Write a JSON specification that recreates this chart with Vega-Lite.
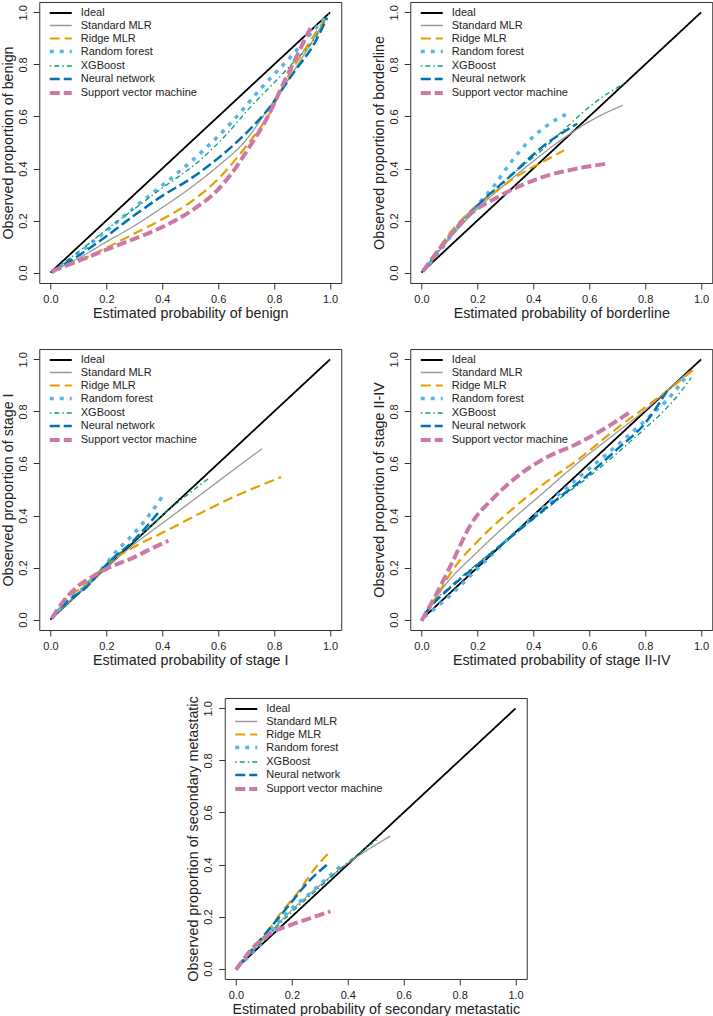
{
"$schema": "https://vega.github.io/schema/vega-lite/v6.json",
"padding": {"left": 0, "top": 1, "right": 0, "bottom": 0},
"config": {
  "font": "Liberation Sans",
  "view": {"stroke": "#333333", "strokeWidth": 1},
  "axis": {"grid": false, "domain": false, "tickColor": "#333333", "tickSize": 6, "labelFontSize": 11, "labelColor": "#222222", "titleFontSize": 14.3, "titleFontWeight": "normal", "titleColor": "#222222"},
  "axisY": {"labelAngle": -90, "labelAlign": "center", "labelBaseline": "bottom", "labelPadding": 5, "titlePadding": 2},
  "axisX": {"labelPadding": 4, "titlePadding": 2},
  "legend": {"orient": "none", "legendX": 14, "legendY": 4.5, "padding": 0, "labelFontSize": 11, "labelColor": "#222222", "labelOffset": 12.5, "symbolType": "M-2,0L2,0", "symbolSize": 121, "rowPadding": 0.5},
  "line": {"interpolate": "monotone"}
},
"datasets": {
"d": [
{"p":"b","m":"Ideal","x":0,"y":0},{"p":"b","m":"Ideal","x":1,"y":1},
{"p":"b","m":"Standard MLR","x":0.005,"y":0.005},{"p":"b","m":"Standard MLR","x":0.1,"y":0.055},{"p":"b","m":"Standard MLR","x":0.2,"y":0.118},{"p":"b","m":"Standard MLR","x":0.3,"y":0.18},{"p":"b","m":"Standard MLR","x":0.4,"y":0.25},{"p":"b","m":"Standard MLR","x":0.5,"y":0.325},{"p":"b","m":"Standard MLR","x":0.6,"y":0.41},{"p":"b","m":"Standard MLR","x":0.7,"y":0.51},{"p":"b","m":"Standard MLR","x":0.77,"y":0.615},{"p":"b","m":"Standard MLR","x":0.85,"y":0.74},{"p":"b","m":"Standard MLR","x":0.92,"y":0.86},{"p":"b","m":"Standard MLR","x":0.985,"y":0.975},
{"p":"b","m":"Ridge MLR","x":0.005,"y":0.005},{"p":"b","m":"Ridge MLR","x":0.1,"y":0.045},{"p":"b","m":"Ridge MLR","x":0.2,"y":0.095},{"p":"b","m":"Ridge MLR","x":0.3,"y":0.15},{"p":"b","m":"Ridge MLR","x":0.4,"y":0.205},{"p":"b","m":"Ridge MLR","x":0.5,"y":0.27},{"p":"b","m":"Ridge MLR","x":0.6,"y":0.36},{"p":"b","m":"Ridge MLR","x":0.71,"y":0.5},{"p":"b","m":"Ridge MLR","x":0.78,"y":0.605},{"p":"b","m":"Ridge MLR","x":0.853,"y":0.76},{"p":"b","m":"Ridge MLR","x":0.912,"y":0.861},{"p":"b","m":"Ridge MLR","x":0.995,"y":0.995},
{"p":"b","m":"Random forest","x":0.005,"y":0.0},{"p":"b","m":"Random forest","x":0.1,"y":0.075},{"p":"b","m":"Random forest","x":0.2,"y":0.16},{"p":"b","m":"Random forest","x":0.3,"y":0.25},{"p":"b","m":"Random forest","x":0.4,"y":0.335},{"p":"b","m":"Random forest","x":0.533,"y":0.456},{"p":"b","m":"Random forest","x":0.65,"y":0.58},{"p":"b","m":"Random forest","x":0.746,"y":0.7},{"p":"b","m":"Random forest","x":0.864,"y":0.835},{"p":"b","m":"Random forest","x":0.947,"y":0.938},{"p":"b","m":"Random forest","x":0.99,"y":0.99},
{"p":"b","m":"XGBoost","x":0.005,"y":0.005},{"p":"b","m":"XGBoost","x":0.1,"y":0.08},{"p":"b","m":"XGBoost","x":0.2,"y":0.165},{"p":"b","m":"XGBoost","x":0.3,"y":0.245},{"p":"b","m":"XGBoost","x":0.4,"y":0.325},{"p":"b","m":"XGBoost","x":0.533,"y":0.43},{"p":"b","m":"XGBoost","x":0.62,"y":0.52},{"p":"b","m":"XGBoost","x":0.71,"y":0.63},{"p":"b","m":"XGBoost","x":0.853,"y":0.79},{"p":"b","m":"XGBoost","x":0.96,"y":0.925},{"p":"b","m":"XGBoost","x":0.99,"y":0.985},
{"p":"b","m":"Neural network","x":0.005,"y":0.005},{"p":"b","m":"Neural network","x":0.1,"y":0.065},{"p":"b","m":"Neural network","x":0.2,"y":0.14},{"p":"b","m":"Neural network","x":0.3,"y":0.22},{"p":"b","m":"Neural network","x":0.4,"y":0.295},{"p":"b","m":"Neural network","x":0.5,"y":0.36},{"p":"b","m":"Neural network","x":0.6,"y":0.44},{"p":"b","m":"Neural network","x":0.71,"y":0.547},{"p":"b","m":"Neural network","x":0.78,"y":0.63},{"p":"b","m":"Neural network","x":0.864,"y":0.76},{"p":"b","m":"Neural network","x":0.947,"y":0.887},{"p":"b","m":"Neural network","x":0.99,"y":0.98},
{"p":"b","m":"Support vector machine","x":0.005,"y":0.005},{"p":"b","m":"Support vector machine","x":0.1,"y":0.045},{"p":"b","m":"Support vector machine","x":0.2,"y":0.088},{"p":"b","m":"Support vector machine","x":0.3,"y":0.13},{"p":"b","m":"Support vector machine","x":0.4,"y":0.175},{"p":"b","m":"Support vector machine","x":0.5,"y":0.235},{"p":"b","m":"Support vector machine","x":0.6,"y":0.32},{"p":"b","m":"Support vector machine","x":0.64,"y":0.37},{"p":"b","m":"Support vector machine","x":0.71,"y":0.48},{"p":"b","m":"Support vector machine","x":0.78,"y":0.605},{"p":"b","m":"Support vector machine","x":0.83,"y":0.72},{"p":"b","m":"Support vector machine","x":0.888,"y":0.848},{"p":"b","m":"Support vector machine","x":0.93,"y":0.94},

{"p":"bl","m":"Ideal","x":0,"y":0},{"p":"bl","m":"Ideal","x":1,"y":1},
{"p":"bl","m":"Standard MLR","x":0.005,"y":0.005},{"p":"bl","m":"Standard MLR","x":0.05,"y":0.065},{"p":"bl","m":"Standard MLR","x":0.1,"y":0.13},{"p":"bl","m":"Standard MLR","x":0.2,"y":0.245},{"p":"bl","m":"Standard MLR","x":0.3,"y":0.34},{"p":"bl","m":"Standard MLR","x":0.379,"y":0.41},{"p":"bl","m":"Standard MLR","x":0.5,"y":0.51},{"p":"bl","m":"Standard MLR","x":0.616,"y":0.59},{"p":"bl","m":"Standard MLR","x":0.72,"y":0.643},
{"p":"bl","m":"Ridge MLR","x":0.005,"y":0.005},{"p":"bl","m":"Ridge MLR","x":0.05,"y":0.075},{"p":"bl","m":"Ridge MLR","x":0.1,"y":0.15},{"p":"bl","m":"Ridge MLR","x":0.15,"y":0.21},{"p":"bl","m":"Ridge MLR","x":0.2,"y":0.26},{"p":"bl","m":"Ridge MLR","x":0.25,"y":0.3},{"p":"bl","m":"Ridge MLR","x":0.3,"y":0.34},{"p":"bl","m":"Ridge MLR","x":0.38,"y":0.395},{"p":"bl","m":"Ridge MLR","x":0.45,"y":0.435},{"p":"bl","m":"Ridge MLR","x":0.51,"y":0.47},
{"p":"bl","m":"Random forest","x":0.005,"y":0.005},{"p":"bl","m":"Random forest","x":0.071,"y":0.09},{"p":"bl","m":"Random forest","x":0.142,"y":0.193},{"p":"bl","m":"Random forest","x":0.2,"y":0.26},{"p":"bl","m":"Random forest","x":0.26,"y":0.334},{"p":"bl","m":"Random forest","x":0.32,"y":0.424},{"p":"bl","m":"Random forest","x":0.379,"y":0.5},{"p":"bl","m":"Random forest","x":0.45,"y":0.566},{"p":"bl","m":"Random forest","x":0.533,"y":0.617},
{"p":"bl","m":"XGBoost","x":0.005,"y":0.005},{"p":"bl","m":"XGBoost","x":0.083,"y":0.116},{"p":"bl","m":"XGBoost","x":0.2,"y":0.257},{"p":"bl","m":"XGBoost","x":0.32,"y":0.373},{"p":"bl","m":"XGBoost","x":0.43,"y":0.47},{"p":"bl","m":"XGBoost","x":0.52,"y":0.56},{"p":"bl","m":"XGBoost","x":0.616,"y":0.65},{"p":"bl","m":"XGBoost","x":0.735,"y":0.733},
{"p":"bl","m":"Neural network","x":0.005,"y":0.005},{"p":"bl","m":"Neural network","x":0.083,"y":0.116},{"p":"bl","m":"Neural network","x":0.2,"y":0.257},{"p":"bl","m":"Neural network","x":0.32,"y":0.373},{"p":"bl","m":"Neural network","x":0.438,"y":0.488},{"p":"bl","m":"Neural network","x":0.557,"y":0.572},
{"p":"bl","m":"Support vector machine","x":0.005,"y":0.005},{"p":"bl","m":"Support vector machine","x":0.083,"y":0.116},{"p":"bl","m":"Support vector machine","x":0.166,"y":0.218},{"p":"bl","m":"Support vector machine","x":0.26,"y":0.283},{"p":"bl","m":"Support vector machine","x":0.355,"y":0.334},{"p":"bl","m":"Support vector machine","x":0.45,"y":0.373},{"p":"bl","m":"Support vector machine","x":0.557,"y":0.4},{"p":"bl","m":"Support vector machine","x":0.658,"y":0.418},

{"p":"s1","m":"Ideal","x":0,"y":0},{"p":"s1","m":"Ideal","x":1,"y":1},
{"p":"s1","m":"Standard MLR","x":0.005,"y":0.005},{"p":"s1","m":"Standard MLR","x":0.1,"y":0.1},{"p":"s1","m":"Standard MLR","x":0.2,"y":0.2},{"p":"s1","m":"Standard MLR","x":0.3,"y":0.29},{"p":"s1","m":"Standard MLR","x":0.416,"y":0.383},{"p":"s1","m":"Standard MLR","x":0.534,"y":0.478},{"p":"s1","m":"Standard MLR","x":0.653,"y":0.574},{"p":"s1","m":"Standard MLR","x":0.757,"y":0.657},
{"p":"s1","m":"Ridge MLR","x":0.005,"y":0.005},{"p":"s1","m":"Ridge MLR","x":0.06,"y":0.085},{"p":"s1","m":"Ridge MLR","x":0.095,"y":0.11},{"p":"s1","m":"Ridge MLR","x":0.15,"y":0.16},{"p":"s1","m":"Ridge MLR","x":0.214,"y":0.222},{"p":"s1","m":"Ridge MLR","x":0.297,"y":0.278},{"p":"s1","m":"Ridge MLR","x":0.416,"y":0.342},{"p":"s1","m":"Ridge MLR","x":0.534,"y":0.408},{"p":"s1","m":"Ridge MLR","x":0.653,"y":0.47},{"p":"s1","m":"Ridge MLR","x":0.825,"y":0.548},
{"p":"s1","m":"Random forest","x":0.005,"y":0.005},{"p":"s1","m":"Random forest","x":0.06,"y":0.072},{"p":"s1","m":"Random forest","x":0.119,"y":0.123},{"p":"s1","m":"Random forest","x":0.178,"y":0.188},{"p":"s1","m":"Random forest","x":0.238,"y":0.265},{"p":"s1","m":"Random forest","x":0.297,"y":0.329},{"p":"s1","m":"Random forest","x":0.356,"y":0.406},{"p":"s1","m":"Random forest","x":0.398,"y":0.47},
{"p":"s1","m":"XGBoost","x":0.005,"y":0.005},{"p":"s1","m":"XGBoost","x":0.1,"y":0.1},{"p":"s1","m":"XGBoost","x":0.178,"y":0.19},{"p":"s1","m":"XGBoost","x":0.297,"y":0.3},{"p":"s1","m":"XGBoost","x":0.416,"y":0.415},{"p":"s1","m":"XGBoost","x":0.564,"y":0.541},
{"p":"s1","m":"Neural network","x":0.005,"y":0.005},{"p":"s1","m":"Neural network","x":0.06,"y":0.07},{"p":"s1","m":"Neural network","x":0.119,"y":0.115},{"p":"s1","m":"Neural network","x":0.214,"y":0.226},{"p":"s1","m":"Neural network","x":0.297,"y":0.303},{"p":"s1","m":"Neural network","x":0.392,"y":0.419},
{"p":"s1","m":"Support vector machine","x":0.005,"y":0.005},{"p":"s1","m":"Support vector machine","x":0.05,"y":0.075},{"p":"s1","m":"Support vector machine","x":0.1,"y":0.13},{"p":"s1","m":"Support vector machine","x":0.15,"y":0.165},{"p":"s1","m":"Support vector machine","x":0.2,"y":0.195},{"p":"s1","m":"Support vector machine","x":0.3,"y":0.24},{"p":"s1","m":"Support vector machine","x":0.356,"y":0.27},{"p":"s1","m":"Support vector machine","x":0.422,"y":0.303},

{"p":"s2","m":"Ideal","x":0,"y":0},{"p":"s2","m":"Ideal","x":1,"y":1},
{"p":"s2","m":"Standard MLR","x":0.005,"y":0.005},{"p":"s2","m":"Standard MLR","x":0.083,"y":0.13},{"p":"s2","m":"Standard MLR","x":0.2,"y":0.26},{"p":"s2","m":"Standard MLR","x":0.32,"y":0.38},{"p":"s2","m":"Standard MLR","x":0.438,"y":0.49},{"p":"s2","m":"Standard MLR","x":0.557,"y":0.6},{"p":"s2","m":"Standard MLR","x":0.675,"y":0.7},{"p":"s2","m":"Standard MLR","x":0.794,"y":0.8},{"p":"s2","m":"Standard MLR","x":0.9,"y":0.9},{"p":"s2","m":"Standard MLR","x":0.96,"y":0.955},
{"p":"s2","m":"Ridge MLR","x":0.005,"y":0.005},{"p":"s2","m":"Ridge MLR","x":0.059,"y":0.098},{"p":"s2","m":"Ridge MLR","x":0.118,"y":0.2},{"p":"s2","m":"Ridge MLR","x":0.2,"y":0.3},{"p":"s2","m":"Ridge MLR","x":0.32,"y":0.42},{"p":"s2","m":"Ridge MLR","x":0.438,"y":0.522},{"p":"s2","m":"Ridge MLR","x":0.557,"y":0.612},{"p":"s2","m":"Ridge MLR","x":0.675,"y":0.715},{"p":"s2","m":"Ridge MLR","x":0.794,"y":0.811},{"p":"s2","m":"Ridge MLR","x":0.912,"y":0.907},{"p":"s2","m":"Ridge MLR","x":0.97,"y":0.959},
{"p":"s2","m":"Random forest","x":0.01,"y":0.01},{"p":"s2","m":"Random forest","x":0.1,"y":0.09},{"p":"s2","m":"Random forest","x":0.2,"y":0.195},{"p":"s2","m":"Random forest","x":0.3,"y":0.3},{"p":"s2","m":"Random forest","x":0.4,"y":0.395},{"p":"s2","m":"Random forest","x":0.5,"y":0.49},{"p":"s2","m":"Random forest","x":0.6,"y":0.58},{"p":"s2","m":"Random forest","x":0.7,"y":0.67},{"p":"s2","m":"Random forest","x":0.8,"y":0.765},{"p":"s2","m":"Random forest","x":0.9,"y":0.87},{"p":"s2","m":"Random forest","x":0.95,"y":0.94},
{"p":"s2","m":"XGBoost","x":0.01,"y":0.02},{"p":"s2","m":"XGBoost","x":0.05,"y":0.075},{"p":"s2","m":"XGBoost","x":0.1,"y":0.125},{"p":"s2","m":"XGBoost","x":0.2,"y":0.215},{"p":"s2","m":"XGBoost","x":0.3,"y":0.3},{"p":"s2","m":"XGBoost","x":0.4,"y":0.385},{"p":"s2","m":"XGBoost","x":0.5,"y":0.47},{"p":"s2","m":"XGBoost","x":0.6,"y":0.55},{"p":"s2","m":"XGBoost","x":0.7,"y":0.64},{"p":"s2","m":"XGBoost","x":0.8,"y":0.735},{"p":"s2","m":"XGBoost","x":0.9,"y":0.84},{"p":"s2","m":"XGBoost","x":0.965,"y":0.93},
{"p":"s2","m":"Neural network","x":0.01,"y":0.02},{"p":"s2","m":"Neural network","x":0.05,"y":0.07},{"p":"s2","m":"Neural network","x":0.1,"y":0.12},{"p":"s2","m":"Neural network","x":0.2,"y":0.21},{"p":"s2","m":"Neural network","x":0.3,"y":0.3},{"p":"s2","m":"Neural network","x":0.4,"y":0.39},{"p":"s2","m":"Neural network","x":0.5,"y":0.475},{"p":"s2","m":"Neural network","x":0.6,"y":0.56},{"p":"s2","m":"Neural network","x":0.7,"y":0.655},{"p":"s2","m":"Neural network","x":0.8,"y":0.755},{"p":"s2","m":"Neural network","x":0.885,"y":0.89},
{"p":"s2","m":"Support vector machine","x":0.0,"y":-0.005},{"p":"s2","m":"Support vector machine","x":0.047,"y":0.085},{"p":"s2","m":"Support vector machine","x":0.107,"y":0.213},{"p":"s2","m":"Support vector machine","x":0.178,"y":0.368},{"p":"s2","m":"Support vector machine","x":0.26,"y":0.47},{"p":"s2","m":"Support vector machine","x":0.355,"y":0.56},{"p":"s2","m":"Support vector machine","x":0.45,"y":0.625},{"p":"s2","m":"Support vector machine","x":0.557,"y":0.676},{"p":"s2","m":"Support vector machine","x":0.664,"y":0.74},{"p":"s2","m":"Support vector machine","x":0.746,"y":0.798},

{"p":"sm","m":"Ideal","x":0,"y":0},{"p":"sm","m":"Ideal","x":1,"y":1},
{"p":"sm","m":"Standard MLR","x":0.005,"y":0.005},{"p":"sm","m":"Standard MLR","x":0.1,"y":0.115},{"p":"sm","m":"Standard MLR","x":0.2,"y":0.225},{"p":"sm","m":"Standard MLR","x":0.3,"y":0.32},{"p":"sm","m":"Standard MLR","x":0.4,"y":0.405},{"p":"sm","m":"Standard MLR","x":0.552,"y":0.509},
{"p":"sm","m":"Ridge MLR","x":0.005,"y":0.005},{"p":"sm","m":"Ridge MLR","x":0.05,"y":0.06},{"p":"sm","m":"Ridge MLR","x":0.101,"y":0.123},{"p":"sm","m":"Ridge MLR","x":0.16,"y":0.213},{"p":"sm","m":"Ridge MLR","x":0.22,"y":0.29},{"p":"sm","m":"Ridge MLR","x":0.279,"y":0.38},{"p":"sm","m":"Ridge MLR","x":0.338,"y":0.451},
{"p":"sm","m":"Random forest","x":0.005,"y":0.005},{"p":"sm","m":"Random forest","x":0.101,"y":0.11},{"p":"sm","m":"Random forest","x":0.16,"y":0.188},{"p":"sm","m":"Random forest","x":0.279,"y":0.303},{"p":"sm","m":"Random forest","x":0.374,"y":0.393},
{"p":"sm","m":"XGBoost","x":0.005,"y":0.005},{"p":"sm","m":"XGBoost","x":0.101,"y":0.11},{"p":"sm","m":"XGBoost","x":0.196,"y":0.213},{"p":"sm","m":"XGBoost","x":0.303,"y":0.316},{"p":"sm","m":"XGBoost","x":0.398,"y":0.406},{"p":"sm","m":"XGBoost","x":0.505,"y":0.496},
{"p":"sm","m":"Neural network","x":0.005,"y":0.005},{"p":"sm","m":"Neural network","x":0.077,"y":0.098},{"p":"sm","m":"Neural network","x":0.137,"y":0.175},{"p":"sm","m":"Neural network","x":0.196,"y":0.252},{"p":"sm","m":"Neural network","x":0.255,"y":0.329},{"p":"sm","m":"Neural network","x":0.327,"y":0.4},
{"p":"sm","m":"Support vector machine","x":0.0,"y":-0.005},{"p":"sm","m":"Support vector machine","x":0.065,"y":0.085},{"p":"sm","m":"Support vector machine","x":0.125,"y":0.136},{"p":"sm","m":"Support vector machine","x":0.196,"y":0.168},{"p":"sm","m":"Support vector machine","x":0.267,"y":0.194},{"p":"sm","m":"Support vector machine","x":0.338,"y":0.22}
]
},
"spacing": 27,
"center": true,
"resolve": {"scale": {"x": "independent", "y": "independent", "color": "independent", "strokeDash": "independent", "strokeWidth": "independent"}, "legend": {"color": "independent", "strokeDash": "independent", "strokeWidth": "independent"}},
"vconcat": [
 {"hconcat": [
  {"width": 302, "height": 281, "data": {"name": "d"}, "transform": [{"filter": "datum.p === 'b'"}], "mark": {"type": "line"},
   "encoding": {
    "x": {"field": "x", "type": "quantitative", "scale": {"domain": [-0.04, 1.04], "nice": false, "zero": false}, "axis": {"title": "Estimated probability of benign", "values": [0, 0.2, 0.4, 0.6, 0.8, 1], "format": ".1f"}},
    "y": {"field": "y", "type": "quantitative", "scale": {"domain": [-0.04, 1.04], "nice": false, "zero": false}, "axis": {"title": "Observed proportion of benign", "values": [0, 0.2, 0.4, 0.6, 0.8, 1], "format": ".1f"}},
    "color": {"field": "m", "type": "nominal", "scale": {"domain": ["Ideal","Standard MLR","Ridge MLR","Random forest","XGBoost","Neural network","Support vector machine"], "range": ["#000000","#999999","#E69F00","#56B4E9","#009E73","#0072B2","#CC79A7"]}, "legend": {"title": null}},
    "strokeDash": {"field": "m", "type": "nominal", "scale": {"domain": ["Ideal","Standard MLR","Ridge MLR","Random forest","XGBoost","Neural network","Support vector machine"], "range": [[1,0],[1,0],[10,5],[4,6],[1.5,3,5,3],[10,4],[10,4]]}, "legend": {"title": null}},
    "strokeWidth": {"field": "m", "type": "nominal", "scale": {"type": "ordinal", "domain": ["Ideal","Standard MLR","Ridge MLR","Random forest","XGBoost","Neural network","Support vector machine"], "range": [1.8,1.3,2.2,3.5,1.3,2.5,4]}, "legend": {"title": null}}
   }},
  {"width": 302, "height": 281, "data": {"name": "d"}, "transform": [{"filter": "datum.p === 'bl'"}], "mark": {"type": "line"},
   "encoding": {
    "x": {"field": "x", "type": "quantitative", "scale": {"domain": [-0.04, 1.04], "nice": false, "zero": false}, "axis": {"title": "Estimated probability of borderline", "values": [0, 0.2, 0.4, 0.6, 0.8, 1], "format": ".1f"}},
    "y": {"field": "y", "type": "quantitative", "scale": {"domain": [-0.04, 1.04], "nice": false, "zero": false}, "axis": {"title": "Observed proportion of borderline", "values": [0, 0.2, 0.4, 0.6, 0.8, 1], "format": ".1f"}},
    "color": {"field": "m", "type": "nominal", "scale": {"domain": ["Ideal","Standard MLR","Ridge MLR","Random forest","XGBoost","Neural network","Support vector machine"], "range": ["#000000","#999999","#E69F00","#56B4E9","#009E73","#0072B2","#CC79A7"]}, "legend": {"title": null}},
    "strokeDash": {"field": "m", "type": "nominal", "scale": {"domain": ["Ideal","Standard MLR","Ridge MLR","Random forest","XGBoost","Neural network","Support vector machine"], "range": [[1,0],[1,0],[10,5],[4,6],[1.5,3,5,3],[10,4],[10,4]]}, "legend": {"title": null}},
    "strokeWidth": {"field": "m", "type": "nominal", "scale": {"type": "ordinal", "domain": ["Ideal","Standard MLR","Ridge MLR","Random forest","XGBoost","Neural network","Support vector machine"], "range": [1.8,1.3,2.2,3.5,1.3,2.5,4]}, "legend": {"title": null}}
   }}
 ], "spacing": 29,
 "resolve": {"scale": {"x": "independent", "y": "independent", "color": "independent", "strokeDash": "independent", "strokeWidth": "independent"}, "legend": {"color": "independent", "strokeDash": "independent", "strokeWidth": "independent"}}},
 {"hconcat": [
  {"width": 302, "height": 281, "data": {"name": "d"}, "transform": [{"filter": "datum.p === 's1'"}], "mark": {"type": "line"},
   "encoding": {
    "x": {"field": "x", "type": "quantitative", "scale": {"domain": [-0.04, 1.04], "nice": false, "zero": false}, "axis": {"title": "Estimated probability of stage I", "values": [0, 0.2, 0.4, 0.6, 0.8, 1], "format": ".1f"}},
    "y": {"field": "y", "type": "quantitative", "scale": {"domain": [-0.04, 1.04], "nice": false, "zero": false}, "axis": {"title": "Observed proportion of stage I", "values": [0, 0.2, 0.4, 0.6, 0.8, 1], "format": ".1f"}},
    "color": {"field": "m", "type": "nominal", "scale": {"domain": ["Ideal","Standard MLR","Ridge MLR","Random forest","XGBoost","Neural network","Support vector machine"], "range": ["#000000","#999999","#E69F00","#56B4E9","#009E73","#0072B2","#CC79A7"]}, "legend": {"title": null}},
    "strokeDash": {"field": "m", "type": "nominal", "scale": {"domain": ["Ideal","Standard MLR","Ridge MLR","Random forest","XGBoost","Neural network","Support vector machine"], "range": [[1,0],[1,0],[10,5],[4,6],[1.5,3,5,3],[10,4],[10,4]]}, "legend": {"title": null}},
    "strokeWidth": {"field": "m", "type": "nominal", "scale": {"type": "ordinal", "domain": ["Ideal","Standard MLR","Ridge MLR","Random forest","XGBoost","Neural network","Support vector machine"], "range": [1.8,1.3,2.2,3.5,1.3,2.5,4]}, "legend": {"title": null}}
   }},
  {"width": 302, "height": 281, "data": {"name": "d"}, "transform": [{"filter": "datum.p === 's2'"}], "mark": {"type": "line"},
   "encoding": {
    "x": {"field": "x", "type": "quantitative", "scale": {"domain": [-0.04, 1.04], "nice": false, "zero": false}, "axis": {"title": "Estimated probability of stage II-IV", "values": [0, 0.2, 0.4, 0.6, 0.8, 1], "format": ".1f"}},
    "y": {"field": "y", "type": "quantitative", "scale": {"domain": [-0.04, 1.04], "nice": false, "zero": false}, "axis": {"title": "Observed proportion of stage II-IV", "values": [0, 0.2, 0.4, 0.6, 0.8, 1], "format": ".1f"}},
    "color": {"field": "m", "type": "nominal", "scale": {"domain": ["Ideal","Standard MLR","Ridge MLR","Random forest","XGBoost","Neural network","Support vector machine"], "range": ["#000000","#999999","#E69F00","#56B4E9","#009E73","#0072B2","#CC79A7"]}, "legend": {"title": null}},
    "strokeDash": {"field": "m", "type": "nominal", "scale": {"domain": ["Ideal","Standard MLR","Ridge MLR","Random forest","XGBoost","Neural network","Support vector machine"], "range": [[1,0],[1,0],[10,5],[4,6],[1.5,3,5,3],[10,4],[10,4]]}, "legend": {"title": null}},
    "strokeWidth": {"field": "m", "type": "nominal", "scale": {"type": "ordinal", "domain": ["Ideal","Standard MLR","Ridge MLR","Random forest","XGBoost","Neural network","Support vector machine"], "range": [1.8,1.3,2.2,3.5,1.3,2.5,4]}, "legend": {"title": null}}
   }}
 ], "spacing": 29,
 "resolve": {"scale": {"x": "independent", "y": "independent", "color": "independent", "strokeDash": "independent", "strokeWidth": "independent"}, "legend": {"color": "independent", "strokeDash": "independent", "strokeWidth": "independent"}}},
 {"width": 302, "height": 281, "data": {"name": "d"}, "transform": [{"filter": "datum.p === 'sm'"}], "mark": {"type": "line"},
   "encoding": {
    "x": {"field": "x", "type": "quantitative", "scale": {"domain": [-0.04, 1.04], "nice": false, "zero": false}, "axis": {"title": "Estimated probability of secondary metastatic", "values": [0, 0.2, 0.4, 0.6, 0.8, 1], "format": ".1f"}},
    "y": {"field": "y", "type": "quantitative", "scale": {"domain": [-0.04, 1.04], "nice": false, "zero": false}, "axis": {"title": "Observed proportion of secondary metastatic", "values": [0, 0.2, 0.4, 0.6, 0.8, 1], "format": ".1f"}},
    "color": {"field": "m", "type": "nominal", "scale": {"domain": ["Ideal","Standard MLR","Ridge MLR","Random forest","XGBoost","Neural network","Support vector machine"], "range": ["#000000","#999999","#E69F00","#56B4E9","#009E73","#0072B2","#CC79A7"]}, "legend": {"title": null}},
    "strokeDash": {"field": "m", "type": "nominal", "scale": {"domain": ["Ideal","Standard MLR","Ridge MLR","Random forest","XGBoost","Neural network","Support vector machine"], "range": [[1,0],[1,0],[10,5],[4,6],[1.5,3,5,3],[10,4],[10,4]]}, "legend": {"title": null}},
    "strokeWidth": {"field": "m", "type": "nominal", "scale": {"type": "ordinal", "domain": ["Ideal","Standard MLR","Ridge MLR","Random forest","XGBoost","Neural network","Support vector machine"], "range": [1.8,1.3,2.2,3.5,1.3,2.5,4]}, "legend": {"title": null}}
   }}
]
}
